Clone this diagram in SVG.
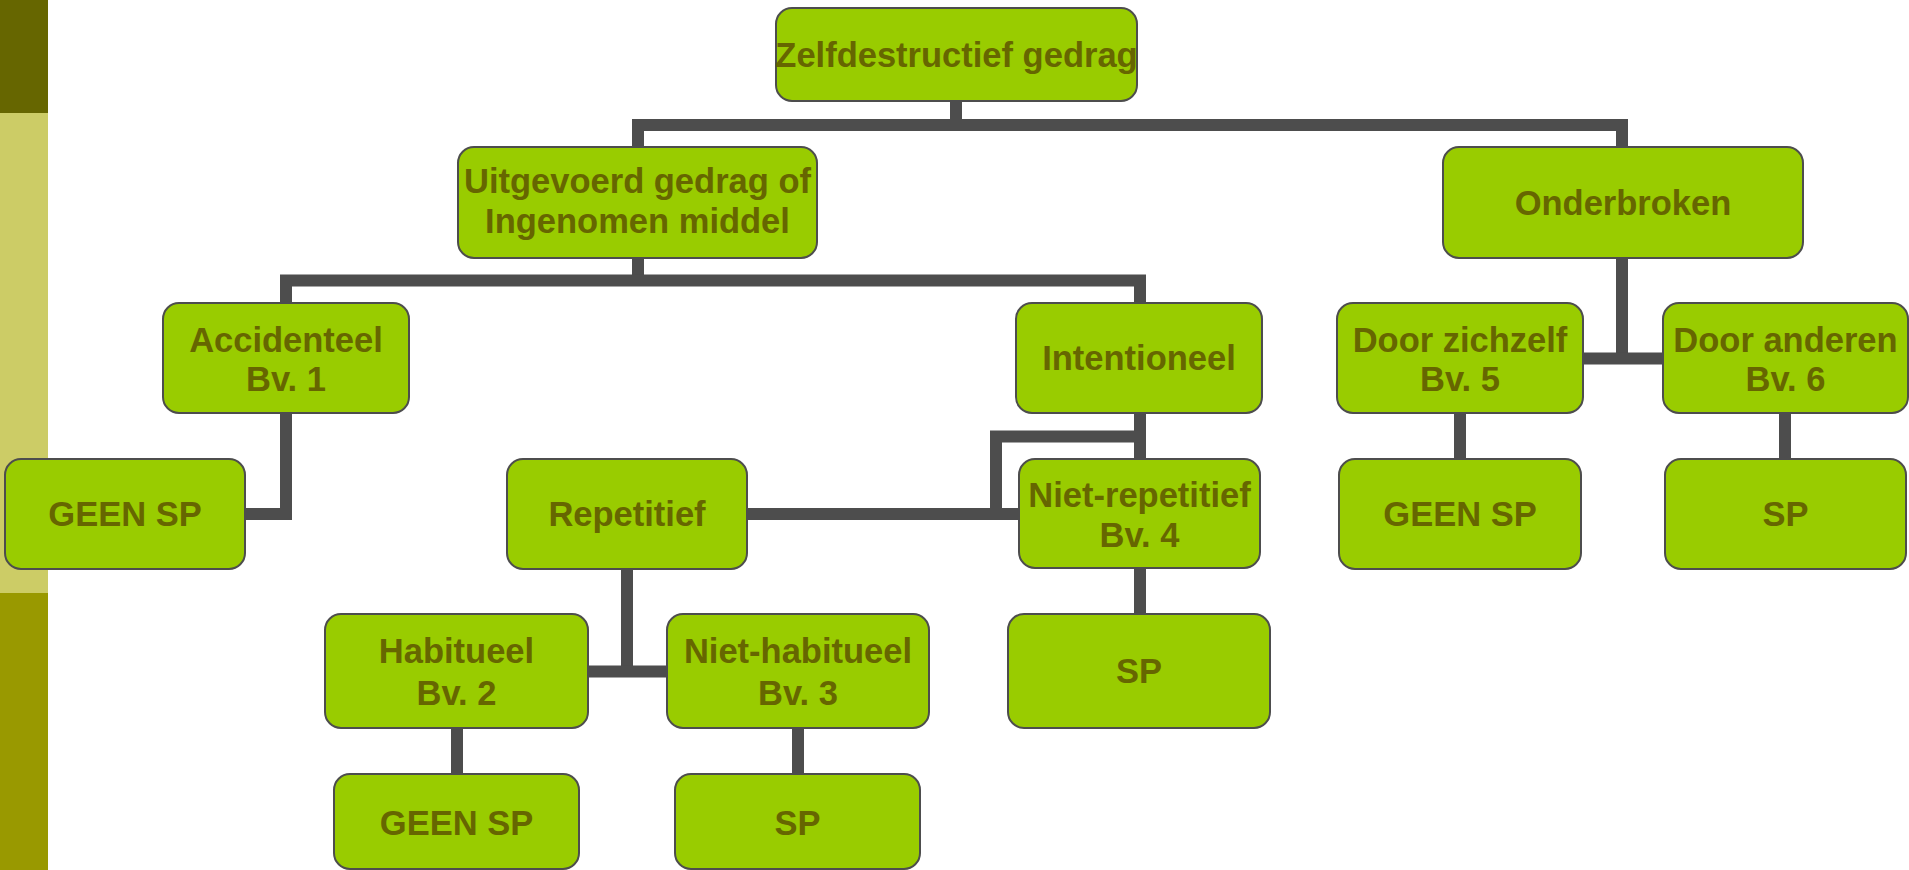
<svg xmlns="http://www.w3.org/2000/svg" width="1909" height="870" viewBox="0 0 1909 870">
<style>
.box rect{fill:#99CC00;stroke:#4D4D4D;stroke-width:2}
.box text{font-family:"Liberation Sans",Arial,sans-serif;font-weight:bold;font-size:34.5px;fill:#666600;text-anchor:middle}
#connectors path{fill:none;stroke:#4D4D4D;stroke-width:12;stroke-linejoin:miter;stroke-linecap:butt}
</style>
<rect width="1909" height="870" fill="#FFFFFF"/>
<g id="sidebar">
<rect x="0" y="0" width="48" height="113" fill="#666600"/>
<rect x="0" y="113" width="48" height="480" fill="#CCCC66"/>
<rect x="0" y="593" width="48" height="277" fill="#999900"/>
</g>
<g id="connectors">
<path d="M956,101 V125"/>
<path d="M638,147 V125 H1622 V147"/>
<path d="M638,258 V286"/>
<path d="M286,303 V280.5 H1140 V303"/>
<path d="M1622,258 V364"/>
<path d="M1583,358.5 H1663"/>
<path d="M286,413 V514 H245"/>
<path d="M1140,413 V459"/>
<path d="M1140,436.5 H996 V514"/>
<path d="M747,514 H1019"/>
<path d="M627,569 V677"/>
<path d="M588,671.5 H667"/>
<path d="M457,728 V774"/>
<path d="M798,728 V774"/>
<path d="M1140,569 V614"/>
<path d="M1460,413 V459"/>
<path d="M1785,413 V459"/>
</g>
<g id="n-zelfdestructief" class="box"><rect x="776" y="8" width="361" height="93" rx="16"/><text x="956.5" y="67">Zelfdestructief gedrag</text></g>
<g id="n-uitgevoerd" class="box"><rect x="458" y="147" width="359" height="111" rx="16"/><text x="637.5" y="193">Uitgevoerd gedrag of</text><text x="637.5" y="233">Ingenomen middel</text></g>
<g id="n-onderbroken" class="box"><rect x="1443" y="147" width="360" height="111" rx="16"/><text x="1623" y="215">Onderbroken</text></g>
<g id="n-accidenteel" class="box"><rect x="163" y="303" width="246" height="110" rx="16"/><text x="286" y="352">Accidenteel</text><text x="286" y="391">Bv. 1</text></g>
<g id="n-intentioneel" class="box"><rect x="1016" y="303" width="246" height="110" rx="16"/><text x="1139" y="370">Intentioneel</text></g>
<g id="n-doorzichzelf" class="box"><rect x="1337" y="303" width="246" height="110" rx="16"/><text x="1460" y="352">Door zichzelf</text><text x="1460" y="391">Bv. 5</text></g>
<g id="n-dooranderen" class="box"><rect x="1663" y="303" width="245" height="110" rx="16"/><text x="1785.5" y="352">Door anderen</text><text x="1785.5" y="391">Bv. 6</text></g>
<g id="n-geensp1" class="box"><rect x="5" y="459" width="240" height="110" rx="16"/><text x="125" y="526">GEEN SP</text></g>
<g id="n-repetitief" class="box"><rect x="507" y="459" width="240" height="110" rx="16"/><text x="627" y="526">Repetitief</text></g>
<g id="n-nietrepetitief" class="box"><rect x="1019" y="459" width="241" height="109" rx="16"/><text x="1139.5" y="507">Niet-repetitief</text><text x="1139.5" y="547">Bv. 4</text></g>
<g id="n-geensp2" class="box"><rect x="1339" y="459" width="242" height="110" rx="16"/><text x="1460" y="526">GEEN SP</text></g>
<g id="n-sp1" class="box"><rect x="1665" y="459" width="241" height="110" rx="16"/><text x="1785.5" y="526">SP</text></g>
<g id="n-habitueel" class="box"><rect x="325" y="614" width="263" height="114" rx="16"/><text x="456.5" y="663">Habitueel</text><text x="456.5" y="705">Bv. 2</text></g>
<g id="n-niethabitueel" class="box"><rect x="667" y="614" width="262" height="114" rx="16"/><text x="798" y="663">Niet-habitueel</text><text x="798" y="705">Bv. 3</text></g>
<g id="n-sp2" class="box"><rect x="1008" y="614" width="262" height="114" rx="16"/><text x="1139" y="683">SP</text></g>
<g id="n-geensp3" class="box"><rect x="334" y="774" width="245" height="95" rx="16"/><text x="456.5" y="835">GEEN SP</text></g>
<g id="n-sp3" class="box"><rect x="675" y="774" width="245" height="95" rx="16"/><text x="797.5" y="835">SP</text></g>
</svg>
